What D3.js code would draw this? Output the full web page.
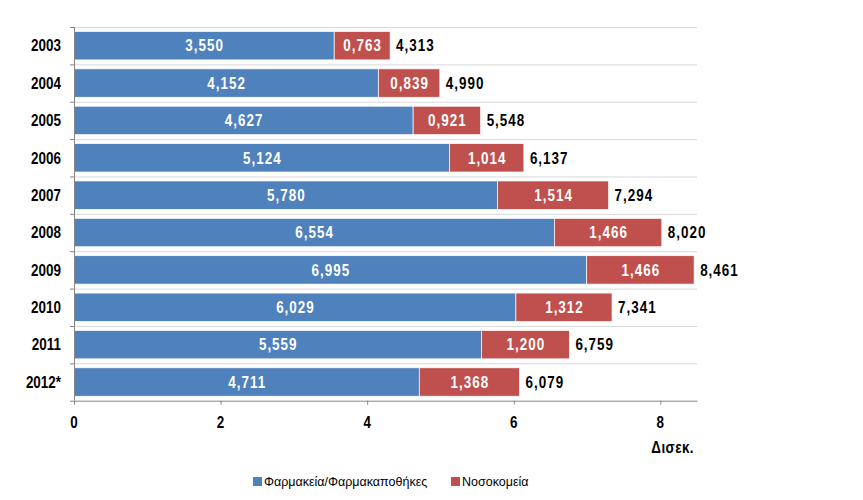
<!DOCTYPE html>
<html><head><meta charset="utf-8">
<script src="https://cdn.jsdelivr.net/npm/d3@7/dist/d3.min.js"></script>
<style>body{margin:0;background:#fff}svg{display:block}</style>
</head><body>
<script>
const years = ["2003","2004","2005","2006","2007","2008","2009","2010","2011","2012*"];
const pharmacies = [3.550,4.152,4.627,5.124,5.780,6.554,6.995,6.029,5.559,4.711];
const hospitals = [0.763,0.839,0.921,1.014,1.514,1.466,1.466,1.312,1.200,1.368];
const totals = [4.313,4.990,5.548,6.137,7.294,8.020,8.461,7.341,6.759,6.079];
const xTicks = [0,2,4,6,8];
const seriesNames = ["Φαρμακεία/Φαρμακαποθήκες","Νοσοκομεία"];
const unitLabel = "Δισεκ.";
const colors = ["#4F81BD","#C0504D"];

const W=863,H=500;
const m={l:74,r:166,t:27,b:99.3};
const svg=d3.select("body").append("svg").attr("width",W).attr("height",H);
const x=d3.scaleLinear().domain([0,8.5]).range([m.l,W-m.r]);
const y=d3.scaleBand().domain(years).range([m.t,H-m.b]).paddingInner(0.24).paddingOuter(0.12);
const fmt=v=>d3.format(".3f")(v).replace(".",",");
const FONT="'Liberation Sans',Arial,sans-serif";
const SX=0.84;

function ntext(parent,tx,ty,str,anchor,fill,ls){
  const t=parent.append("text").attr("transform",`translate(${tx},${ty}) scale(${SX},1)`)
    .attr("dy","0.36em").attr("text-anchor",anchor).attr("fill",fill)
    .attr("font-family",FONT).attr("font-weight","bold").attr("font-size",16).text(str);
  if(ls){ t.attr("letter-spacing",ls); if(anchor==="middle") t.attr("dx",ls/2); }
  return t;
}

// gridlines at band boundaries
const step=y.step();
const bounds=d3.range(years.length).map(i=>m.t+i*step);
svg.append("g").selectAll("line").data(bounds).join("line")
  .attr("x1",m.l).attr("x2",W-m.r).attr("y1",d=>d+0.5).attr("y2",d=>d+0.5)
  .attr("stroke","#d9d9d9").attr("stroke-width",1);

// bars
const g=svg.append("g");
years.forEach((yr,i)=>{
  g.append("rect").attr("x",x(0)).attr("y",y(yr)).attr("width",x(pharmacies[i])-x(0)).attr("height",y.bandwidth())
    .attr("fill",colors[0]).attr("stroke","#fff").attr("stroke-width",0.7);
  g.append("rect").attr("x",x(pharmacies[i])).attr("y",y(yr)).attr("width",x(pharmacies[i]+hospitals[i])-x(pharmacies[i])).attr("height",y.bandwidth())
    .attr("fill",colors[1]).attr("stroke","#fff").attr("stroke-width",0.7);
  const cy=y(yr)+y.bandwidth()/2;
  ntext(g,(x(0)+x(pharmacies[i]))/2,cy,fmt(pharmacies[i]),"middle","#fff",1.2);
  ntext(g,(x(pharmacies[i])+x(pharmacies[i]+hospitals[i]))/2,cy,fmt(hospitals[i]),"middle","#fff",1.2);
  ntext(g,x(pharmacies[i]+hospitals[i])+6,cy,fmt(totals[i]),"start","#000",1.2);
});

// left axis
const yAxis=svg.append("g");
yAxis.append("line").attr("x1",m.l+0.5).attr("x2",m.l+0.5).attr("y1",m.t).attr("y2",H-m.b).attr("stroke","#868686");
yAxis.selectAll("line.t").data(bounds.concat([H-m.b])).join("line").attr("class","t")
  .attr("x1",m.l-4).attr("x2",m.l).attr("y1",d=>d+0.5).attr("y2",d=>d+0.5).attr("stroke","#868686");
years.forEach(yr=>ntext(yAxis,61,y(yr)+y.bandwidth()/2,yr,"end","#000"));

// bottom axis
const xAxis=svg.append("g").attr("transform",`translate(0,${H-m.b})`)
  .call(d3.axisBottom(x).tickValues(xTicks).tickSize(4).tickSizeOuter(0).tickFormat(""));
xAxis.select(".domain").attr("stroke","#868686");
xAxis.selectAll(".tick line").attr("stroke","#868686");
xTicks.forEach(t=>ntext(svg,x(t),422,String(t),"middle","#000"));

ntext(svg,694,447,unitLabel,"end","#000",0.5);

// legend
const lg=[{x:253,tx:264},{x:451,tx:462}];
seriesNames.forEach((n,i)=>{
  svg.append("rect").attr("x",lg[i].x).attr("y",477).attr("width",9).attr("height",9).attr("fill",colors[i]);
  svg.append("text").attr("x",lg[i].tx).attr("y",486).attr("font-family","'Liberation Sans',Arial,sans-serif")
    .attr("font-size",12.5).attr("fill","#000").text(n);
});
</script>
</body></html>
